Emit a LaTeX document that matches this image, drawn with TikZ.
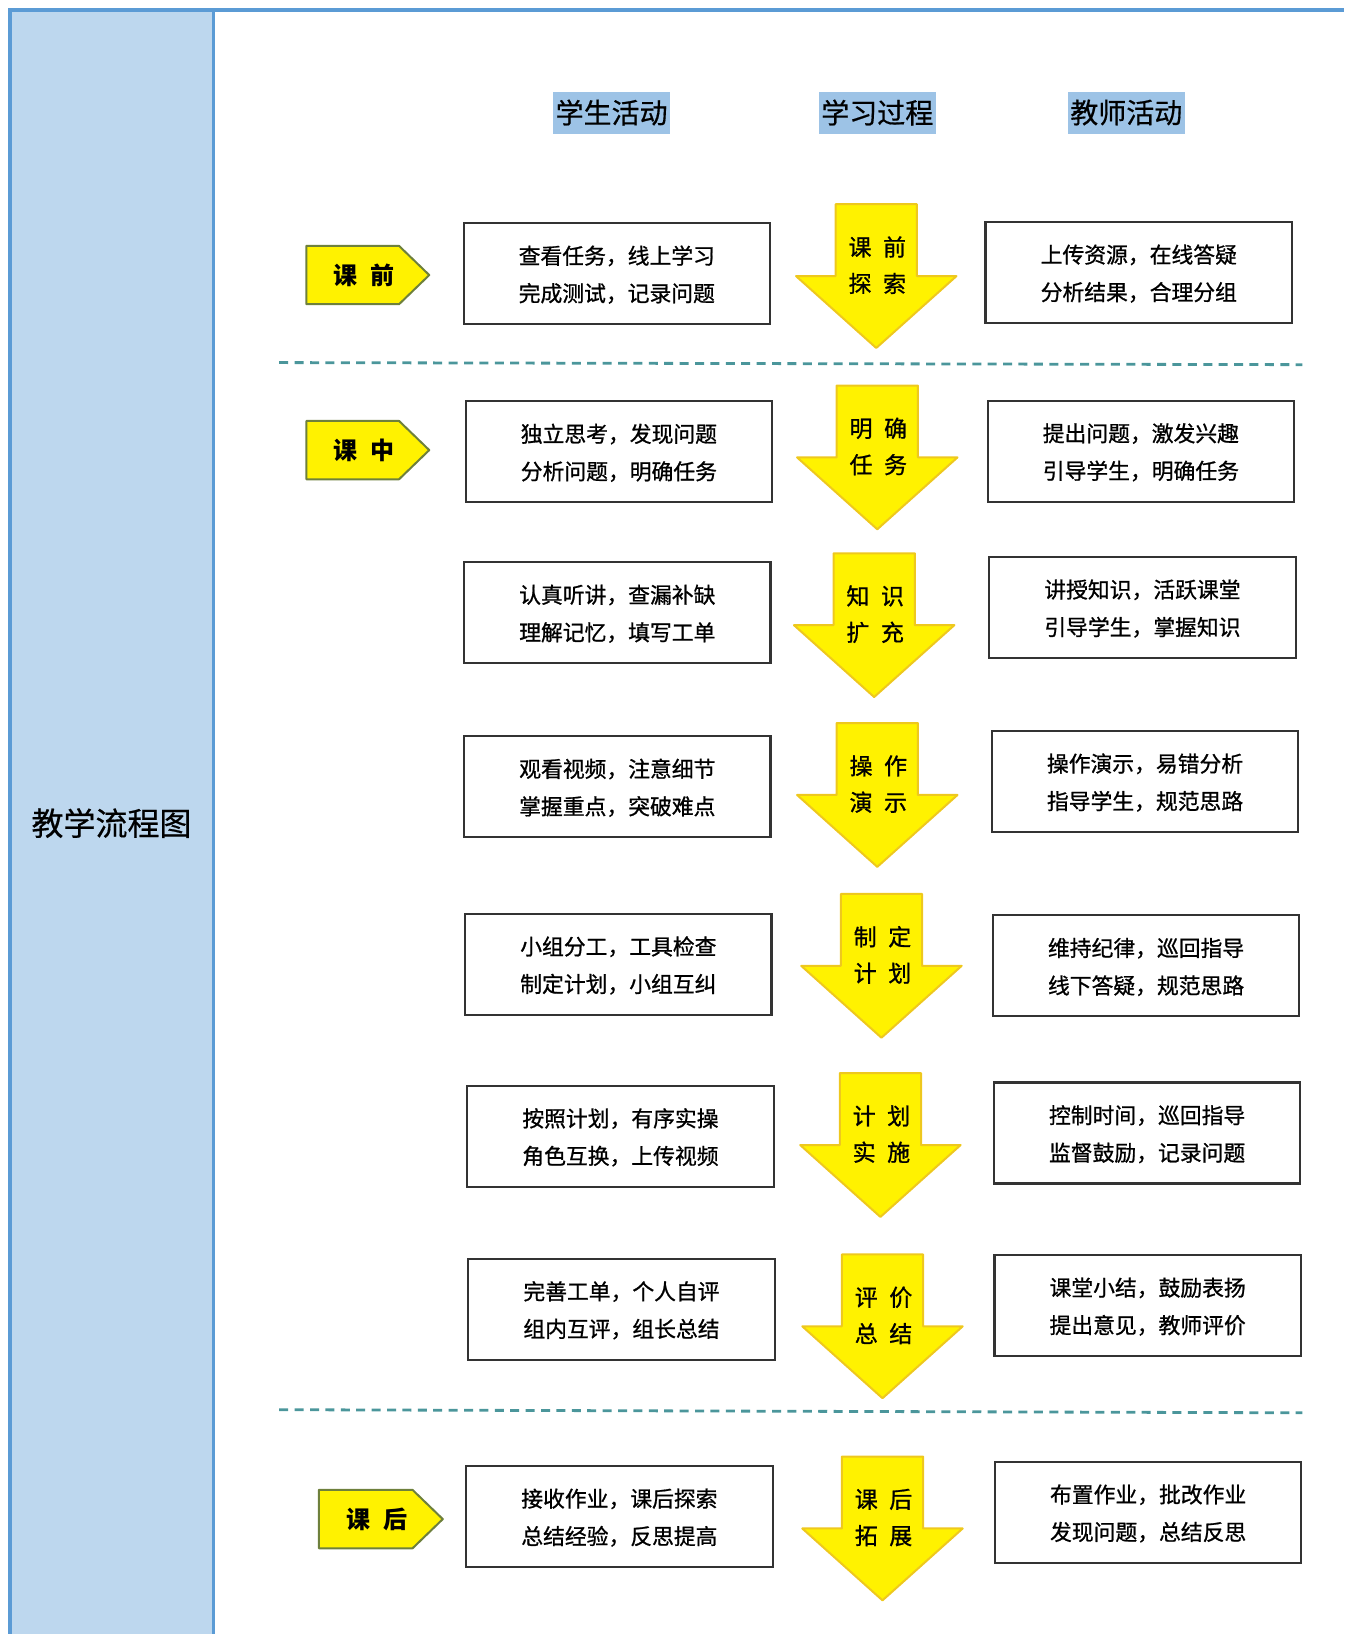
\documentclass[tikz,border=0pt]{standalone}
\usepackage{fontspec}
\setmainfont{Noto Sans CJK SC}
\newfontfamily\semib[FakeBold=0.9]{Noto Sans CJK SC}
\newfontfamily\lightb[FakeBold=0.5]{Noto Sans CJK SC}
\definecolor{frameblue}{RGB}{91,155,213}
\definecolor{panelblue}{RGB}{189,215,238}
\definecolor{headblue}{RGB}{157,195,230}
\definecolor{tagline}{RGB}{110,128,60}
\definecolor{arrowedge}{RGB}{238,200,30}
\definecolor{dashcol}{RGB}{75,150,155}
\tikzset{
  stubox/.style={draw=black!80, line width=1.1pt, minimum width=153.2pt, minimum height=50.5pt, align=center, font=\semib\fontsize{10.9}{18.75}\selectfont, inner sep=0pt, text depth=0pt},
  header/.style={fill=headblue, inner xsep=1.2pt, minimum height=21pt, font=\lightb\fontsize{14}{16}\selectfont},
  tagshape/.style={fill=yellow, draw=tagline, line width=1pt, line join=round},
  tagtext/.style={font=\fontsize{12}{14}\selectfont\bfseries, inner sep=0pt},
  arrshape/.style={fill=yellow, draw=arrowedge, line width=1pt, line join=round},
  arrtext/.style={align=center, font=\semib\fontsize{11.5}{18.2}\selectfont, inner sep=0pt},
  divline/.style={draw=dashcol, line width=1.4pt, dash pattern=on 4.5pt off 3.2pt}
}
\begin{document}
\begin{tikzpicture}[x=0.52093pt,y=-0.52093pt]
\useasboundingbox (0,0) rectangle (1290,1568.3);
% frame and left panel
\fill[panelblue] (10,10) rectangle (205,1568.3);
\draw[frameblue, line width=2pt] (8,10) -- (1290,10);
\draw[frameblue, line width=2pt] (10,10) -- (10,1568.3);
\draw[frameblue, line width=1.1pt] (205,10) -- (205,1568.3);
\node[font=\lightb\fontsize{16}{18}\selectfont, inner sep=0pt] (title) at (107,790) {教学流程图};
% headers
\node[header] (h1) at (587,108) {学生活动};
\node[header] (h2) at (842,108) {学习过程};
\node[header] (h3) at (1081,108) {教师活动};
% dashed dividers
\coordinate (d1a) at (268,348); \coordinate (d1b) at (1250,350);
\coordinate (d2a) at (268,1353); \coordinate (d2b) at (1250,1356);
\draw[divline] (d1a) -- (d1b);
\draw[divline] (d2a) -- (d2b);
% tags
\foreach \n/\xl/\xr/\yc/\txt in {t1/294/412/264/{课\hspace{0.55em}前}, t2/294/412/432/{课\hspace{0.55em}中}, t3/306/425/1458/{课\hspace{0.55em}后}}{
  \draw[tagshape] (\xl,\yc-28) -- (\xr-29,\yc-28) -- (\xr,\yc) -- (\xr-29,\yc+28) -- (\xl,\yc+28) -- cycle;
  \node[tagtext] (\n) at ({(\xl+\xr)/2-4},\yc) {\txt};
}
% student boxes
\node[stubox] (s1) at (592,262.5) {查看任务，线上学习\\完成测试，记录问题};
\node[stubox] (s2) at (594,433.5) {独立思考，发现问题\\分析问题，明确任务};
\node[stubox] (s3) at (592.5,588) {认真听讲，查漏补缺\\理解记忆，填写工单};
\node[stubox] (s4) at (592.5,755) {观看视频，注意细节\\掌握重点，突破难点};
\node[stubox] (s5) at (593.5,925.5) {小组分工，工具检查\\制定计划，小组互纠};
\node[stubox] (s6) at (595.5,1090.5) {按照计划，有序实操\\角色互换，上传视频};
\node[stubox] (s7) at (596.5,1256.5) {完善工单，个人自评\\组内互评，组长总结};
\node[stubox] (s8) at (594.5,1455.5) {接收作业，课后探索\\总结经验，反思提高};
% teacher boxes
\node[stubox] (r1) at (1093,261.5) {上传资源，在线答疑\\分析结果，合理分组};
\node[stubox] (r2) at (1095,433) {提出问题，激发兴趣\\引导学生，明确任务};
\node[stubox] (r3) at (1096.5,583) {讲授知识，活跃课堂\\引导学生，掌握知识};
\node[stubox] (r4) at (1099,750) {操作演示，易错分析\\指导学生，规范思路};
\node[stubox] (r5) at (1100,927) {维持纪律，巡回指导\\线下答疑，规范思路};
\node[stubox] (r6) at (1101,1087.5) {控制时间，巡回指导\\监督鼓励，记录问题};
\node[stubox] (r7) at (1101.5,1253) {课堂小结，鼓励表扬\\提出意见，教师评价};
\node[stubox] (r8) at (1102,1451.5) {布置作业，批改作业\\发现问题，总结反思};
% process arrows
\foreach \n/\cx/\ty/\a/\b in {
  p1/841/196/{课\hspace{0.5em}前}/{探\hspace{0.5em}索},
  p2/842/370/{明\hspace{0.5em}确}/{任\hspace{0.5em}务},
  p3/839/531/{知\hspace{0.5em}识}/{扩\hspace{0.5em}充},
  p4/842/694/{操\hspace{0.5em}作}/{演\hspace{0.5em}示},
  p5/846/858/{制\hspace{0.5em}定}/{计\hspace{0.5em}划},
  p6/845/1030/{计\hspace{0.5em}划}/{实\hspace{0.5em}施},
  p7/847/1204/{评\hspace{0.5em}价}/{总\hspace{0.5em}结},
  p8/847/1398/{课\hspace{0.5em}后}/{拓\hspace{0.5em}展}}{
  \draw[arrshape] (\cx-39,\ty) -- (\cx+39,\ty) -- (\cx+39,\ty+69) -- (\cx+77,\ty+69) -- (\cx,\ty+138) -- (\cx-77,\ty+69) -- (\cx-39,\ty+69) -- cycle;
  \node[arrtext] (\n) at (\cx+1,\ty+58.5) {\a\\\b};
}
\end{tikzpicture}
\end{document}
